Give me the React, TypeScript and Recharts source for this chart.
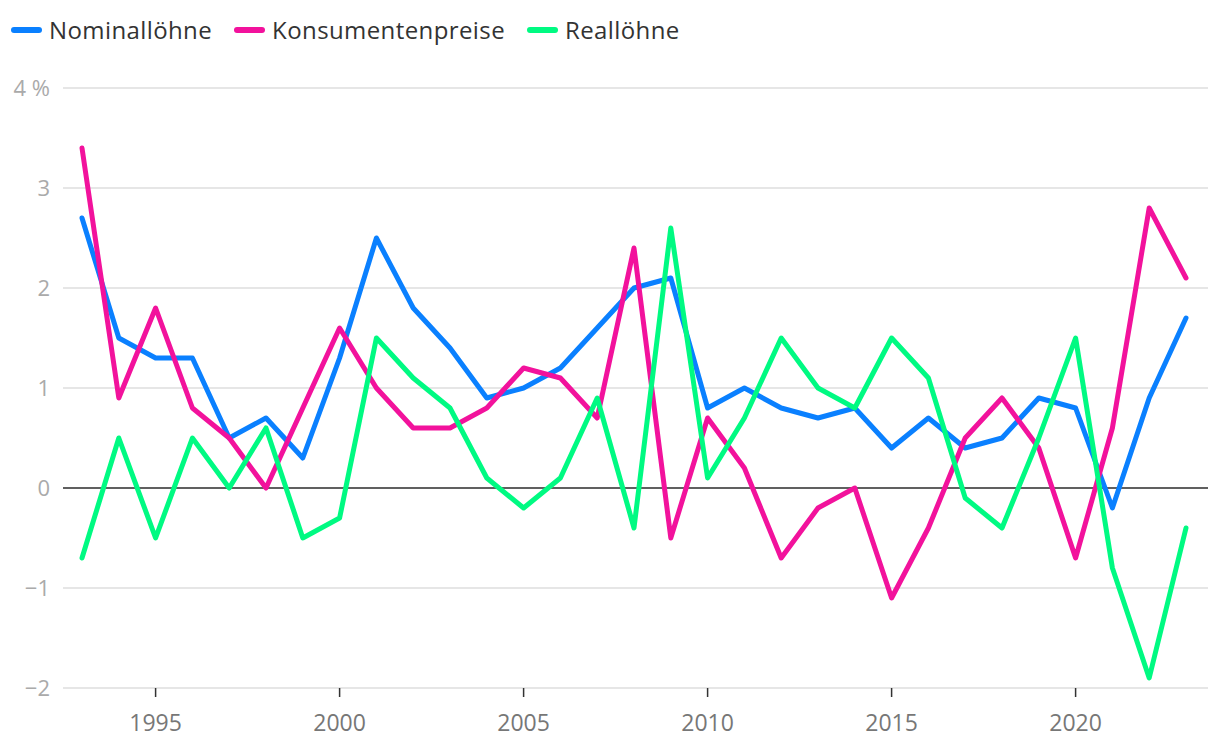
import React from 'react';
import { LineChart, Line, XAxis, YAxis, CartesianGrid, ReferenceLine } from 'recharts';

const years = [1993, 1994, 1995, 1996, 1997, 1998, 1999, 2000, 2001, 2002, 2003, 2004, 2005, 2006, 2007, 2008, 2009, 2010, 2011, 2012, 2013, 2014, 2015, 2016, 2017, 2018, 2019, 2020, 2021, 2022, 2023];
const nominal = [2.7, 1.5, 1.3, 1.3, 0.5, 0.7, 0.3, 1.3, 2.5, 1.8, 1.4, 0.9, 1.0, 1.2, 1.6, 2.0, 2.1, 0.8, 1.0, 0.8, 0.7, 0.8, 0.4, 0.7, 0.4, 0.5, 0.9, 0.8, -0.2, 0.9, 1.7];
const prices = [3.4, 0.9, 1.8, 0.8, 0.5, 0.0, 0.8, 1.6, 1.0, 0.6, 0.6, 0.8, 1.2, 1.1, 0.7, 2.4, -0.5, 0.7, 0.2, -0.7, -0.2, 0.0, -1.1, -0.4, 0.5, 0.9, 0.4, -0.7, 0.6, 2.8, 2.1];
const real = [-0.7, 0.5, -0.5, 0.5, 0.0, 0.6, -0.5, -0.3, 1.5, 1.1, 0.8, 0.1, -0.2, 0.1, 0.9, -0.4, 2.6, 0.1, 0.7, 1.5, 1.0, 0.8, 1.5, 1.1, -0.1, -0.4, 0.5, 1.5, -0.8, -1.9, -0.4];

const yTicks = [-2, -1, 0, 1, 2, 3, 4];
const xTicks = [1995, 2000, 2005, 2010, 2015, 2020];

const series = [
  { key: 'nominal', name: 'Nominallöhne', color: '#0a80ff' },
  { key: 'prices', name: 'Konsumentenpreise', color: '#f2129c' },
  { key: 'real', name: 'Reallöhne', color: '#00fa82' },
];

const data = years.map((y, i) => ({ year: y, nominal: nominal[i], prices: prices[i], real: real[i] }));

const FONT = '"Open Sans", "Noto Sans", sans-serif';

const fmtY = (v: number) => (v === 4 ? '4 %' : v < 0 ? `\u2212${Math.abs(v)}` : String(v));

export default function App() {
  return (
    <div style={{ position: 'absolute', left: 0, top: 0, width: 1220, height: 754, background: '#fff', fontFamily: FONT }}>
      <div style={{ position: 'absolute', left: 11, top: 14, display: 'flex', alignItems: 'center' }}>
        {series.map((s) => (
          <div key={s.key} style={{ display: 'flex', alignItems: 'center', marginRight: 22 }}>
            <span style={{ display: 'inline-block', width: 31, height: 6, borderRadius: 3, background: s.color, marginRight: 7 }} />
            <span style={{ fontSize: 24, fontWeight: 500, letterSpacing: 0.4, color: '#333', lineHeight: '32px' }}>{s.name}</span>
          </div>
        ))}
      </div>
      <LineChart width={1220} height={754} data={data} margin={{ top: 88, right: 12, bottom: 0, left: 0 }}>
        <CartesianGrid vertical={false} stroke="#e6e6e6" strokeWidth={2} />
        <XAxis
          dataKey="year"
          type="number"
          domain={[1993, 2023]}
          ticks={xTicks}
          padding={{ left: 19, right: 22 }}
          axisLine={false}
          tickLine={{ stroke: '#333', strokeWidth: 1.5 }}
          tickSize={9}
          tickMargin={18}
          height={66}
          tick={{ fill: '#777', fontSize: 23, fontWeight: 500, fontFamily: FONT }}
        />
        <YAxis
          type="number"
          domain={[-2, 4]}
          ticks={yTicks}
          tickFormatter={fmtY}
          axisLine={false}
          tickLine={false}
          tickSize={0}
          tickMargin={13}
          width={63}
          tick={{ fill: '#aaa', fontSize: 22, fontWeight: 500, fontFamily: FONT }}
        />
        <ReferenceLine y={0} stroke="#333" strokeWidth={1.5} />
        {series.map((s) => (
          <Line
            key={s.key}
            dataKey={s.key}
            name={s.name}
            stroke={s.color}
            strokeWidth={5}
            dot={false}
            activeDot={false}
            strokeLinejoin="round"
            strokeLinecap="round"
            isAnimationActive={false}
          />
        ))}
      </LineChart>
    </div>
  );
}
